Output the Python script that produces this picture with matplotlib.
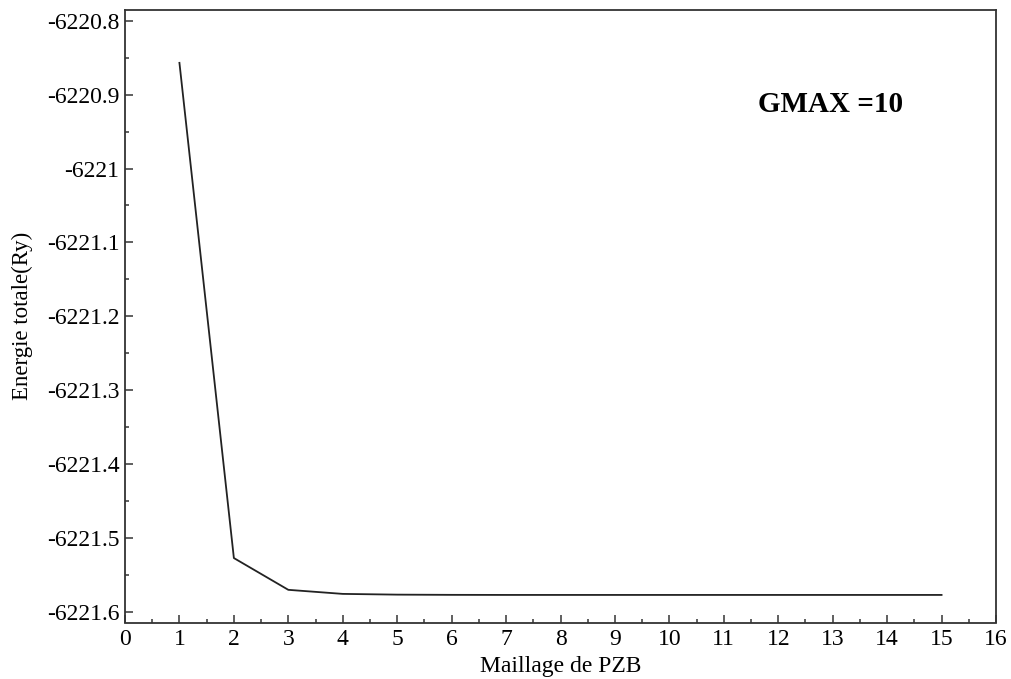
import numpy as np
import matplotlib
matplotlib.use("Agg")
import matplotlib.pyplot as plt
from matplotlib.ticker import MultipleLocator

# maillage de la PZB vs energie totale (Ry)
maillage = [1, 2, 3, 4, 5, 6, 7, 8, 9, 10, 11, 12, 13, 14, 15]
energie = [-6220.857, -6221.527, -6221.570, -6221.5755, -6221.5765,
           -6221.5768, -6221.5769, -6221.5769, -6221.5769, -6221.5769,
           -6221.5769, -6221.5769, -6221.5769, -6221.5769, -6221.5769]
yticks = [-6220.8, -6220.9, -6221.0, -6221.1, -6221.2, -6221.3, -6221.4, -6221.5, -6221.6]
yticklabels = ["-6220.8", "-6220.9", "-6221", "-6221.1", "-6221.2",
               "-6221.3", "-6221.4", "-6221.5", "-6221.6"]

plt.rcParams['font.family'] = ['Liberation Serif', 'DejaVu Serif']

fig = plt.figure(figsize=(10.11, 6.79), dpi=100)
ax = fig.add_axes([125 / 1011, 1 - 622.5 / 679, (996 - 125) / 1011, (622.5 - 10) / 679])

ax.plot(maillage, energie, color='#222222', linewidth=1.3)

ax.set_xlim(0, 16)
ax.set_ylim(-6221.6142, -6220.7855)
ax.set_xticks(range(0, 17))
ax.xaxis.set_minor_locator(MultipleLocator(0.5))
ax.set_yticks(yticks)
ax.set_yticklabels(yticklabels)
ax.yaxis.set_minor_locator(MultipleLocator(0.05))

ax.tick_params(which='both', direction='in', top=False, right=False,
               labelsize=17, color='#444444', width=1.2)
ax.tick_params(which='major', length=6)
ax.tick_params(which='minor', length=3)
ax.tick_params(axis='x', pad=5)
ax.tick_params(axis='y', pad=4)
for s in ax.spines.values():
    s.set_linewidth(1.3)
    s.set_color('#333333')

ax.set_xlabel("Maillage de PZB", fontsize=17, labelpad=4)
ax.set_ylabel("Energie totale(Ry)", fontsize=16.5, labelpad=10)
ax.text(0.81, 0.846, "GMAX =10", transform=ax.transAxes, fontsize=21,
        fontweight='bold', ha='center', va='center')

fig.savefig("out.png", dpi=100)
